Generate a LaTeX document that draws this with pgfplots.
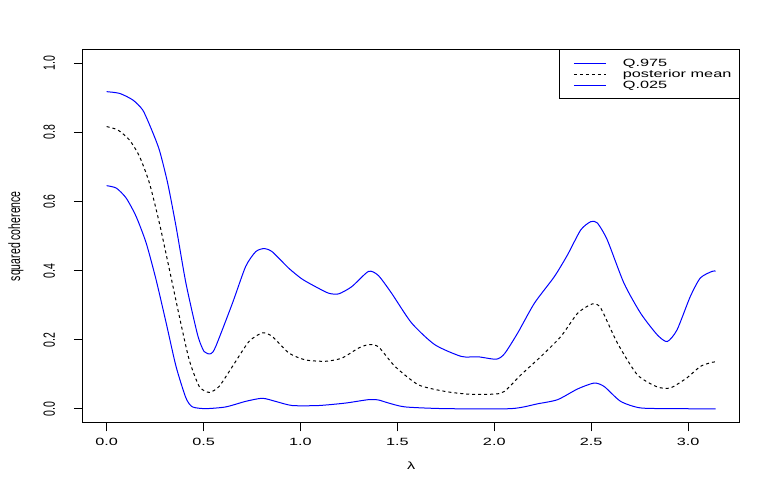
\documentclass[border=0pt]{standalone}
\usepackage{fontspec}
\setmainfont{Liberation Sans}[FakeStretch=1.55]
\newfontfamily\rotfont{Liberation Sans}[FakeStretch=0.644]
\usepackage{pgfplots}
\pgfplotsset{compat=1.18}

\newcommand{\hfont}{\fontsize{10.5}{12}\selectfont}
\newcommand{\vfont}{\fontsize{16.3}{18}\rotfont}
% legend sample: blank box plus a short line in the given style
\pgfplotsset{
  rline/.style={legend image code/.code={%
    \path[draw=none, fill=none] (0pt,0pt) rectangle (37.4pt,3.6pt);
    \draw[#1] (5.7pt,3.6pt) -- (37.4pt,3.6pt);}},
}

\begin{document}
\begin{tikzpicture}
\path[use as bounding box] (-82.3pt,-62.2pt) rectangle (699.7pt,422.8pt);
\begin{axis}[
  at={(0,0)}, anchor=south west,
  scale only axis, width=657.6pt, height=373.3pt,
  xmin=-0.12566, xmax=3.26726, ymin=-0.04, ymax=1.04,
  xtick={0,0.5,1,1.5,2,2.5,3},
  xticklabels={0.0,0.5,1.0,1.5,2.0,2.5,3.0},
  ytick={0,0.2,0.4,0.6,0.8,1},
  yticklabels={0.0,0.2,0.4,0.6,0.8,1.0},
  tick align=outside, tick pos=left,
  major tick length=8.5pt,
  axis line style={black, line width=1pt},
  every tick/.style={black, line width=1pt},
  xticklabel style={font=\hfont, anchor=base, inner sep=0pt},
  yticklabel style={font=\vfont, rotate=90, anchor=base, inner sep=0pt},
  xticklabel shift=13.9pt, yticklabel shift=18.8pt,
  xlabel={λ}, ylabel={squared coherence},
  every axis x label/.style={at={(axis description cs:0.5,-0.1144)},
    anchor=center, font=\hfont},
  every axis y label/.style={at={(axis description cs:-0.0947,0.5)},
    rotate=90, anchor=base, font=\vfont},
  legend style={at={(1,1)}, anchor=north east, draw=none, fill=none,
    inner xsep=8.3pt, inner ysep=9.5pt, row sep=3.65pt,
    column sep=16.7pt, font=\hfont,
    nodes={anchor=base west, inner sep=0pt, text height=7.5pt, text depth=0pt}},
  legend cell align=left,
  every axis plot/.append style={smooth, tension=0.4},
]
\addplot[blue, line width=1pt, rline={blue, line width=1pt}] coordinates {
  (0,0.918) (0.067,0.913) (0.135,0.894) (0.186,0.865) (0.229,0.812)
  (0.272,0.749) (0.315,0.653) (0.358,0.528) (0.409,0.364) (0.469,0.215)
  (0.503,0.166) (0.538,0.160) (0.563,0.181) (0.649,0.306) (0.717,0.412)
  (0.769,0.455) (0.811,0.464) (0.854,0.455) (0.940,0.407) (1.008,0.376)
  (1.077,0.354) (1.145,0.335) (1.197,0.333) (1.265,0.354) (1.351,0.398)
  (1.402,0.386) (1.470,0.335) (1.573,0.249) (1.693,0.186) (1.830,0.152)
  (1.916,0.151) (2.010,0.144) (2.053,0.160) (2.121,0.220) (2.207,0.306)
  (2.310,0.383) (2.378,0.446) (2.446,0.518) (2.498,0.542) (2.532,0.538)
  (2.583,0.489) (2.669,0.364) (2.755,0.277) (2.840,0.215) (2.892,0.195)
  (2.943,0.229) (3.011,0.325) (3.063,0.379) (3.123,0.398) (3.1416,0.399)};
\addlegendentry{Q.975}
\addplot[black, line width=1pt, dash pattern=on 3pt off 3pt,
  rline={black, line width=1pt, dash pattern=on 3pt off 3pt}] coordinates {
  (0,0.817) (0.058,0.807) (0.118,0.778) (0.170,0.730) (0.221,0.653)
  (0.272,0.538) (0.324,0.403) (0.375,0.268) (0.426,0.142) (0.478,0.065)
  (0.529,0.048) (0.580,0.065) (0.649,0.123) (0.734,0.195) (0.803,0.220)
  (0.854,0.210) (0.940,0.162) (1.025,0.142) (1.128,0.138) (1.213,0.147)
  (1.299,0.176) (1.351,0.186) (1.402,0.180) (1.488,0.123) (1.608,0.070)
  (1.744,0.051) (1.864,0.043) (2.001,0.043) (2.053,0.051) (2.138,0.099)
  (2.241,0.152) (2.344,0.210) (2.430,0.277) (2.506,0.304) (2.549,0.292)
  (2.635,0.191) (2.738,0.099) (2.840,0.064) (2.909,0.061) (2.994,0.090)
  (3.063,0.123) (3.123,0.135) (3.1416,0.136)};
\addlegendentry{posterior mean}
\addplot[blue, line width=1pt, rline={blue, line width=1pt}] coordinates {
  (0,0.646) (0.050,0.639) (0.101,0.610) (0.152,0.557) (0.204,0.480)
  (0.255,0.374) (0.307,0.249) (0.358,0.123) (0.409,0.032) (0.443,0.006)
  (0.512,0.001) (0.615,0.006) (0.717,0.022) (0.803,0.031) (0.871,0.022)
  (0.957,0.010) (1.094,0.010) (1.231,0.017) (1.351,0.027) (1.402,0.026)
  (1.450,0.018) (1.539,0.006) (1.744,0.001) (2.087,0.001) (2.224,0.015)
  (2.327,0.027) (2.430,0.058) (2.515,0.075) (2.567,0.065) (2.652,0.022)
  (2.755,0.003) (2.943,0.001) (3.1416,0.000)};
\addlegendentry{Q.025}
\draw[black, line width=1pt] (axis description cs:0.7254,0.8693)
  rectangle (axis description cs:1,1);
\end{axis}
\end{tikzpicture}
\end{document}
